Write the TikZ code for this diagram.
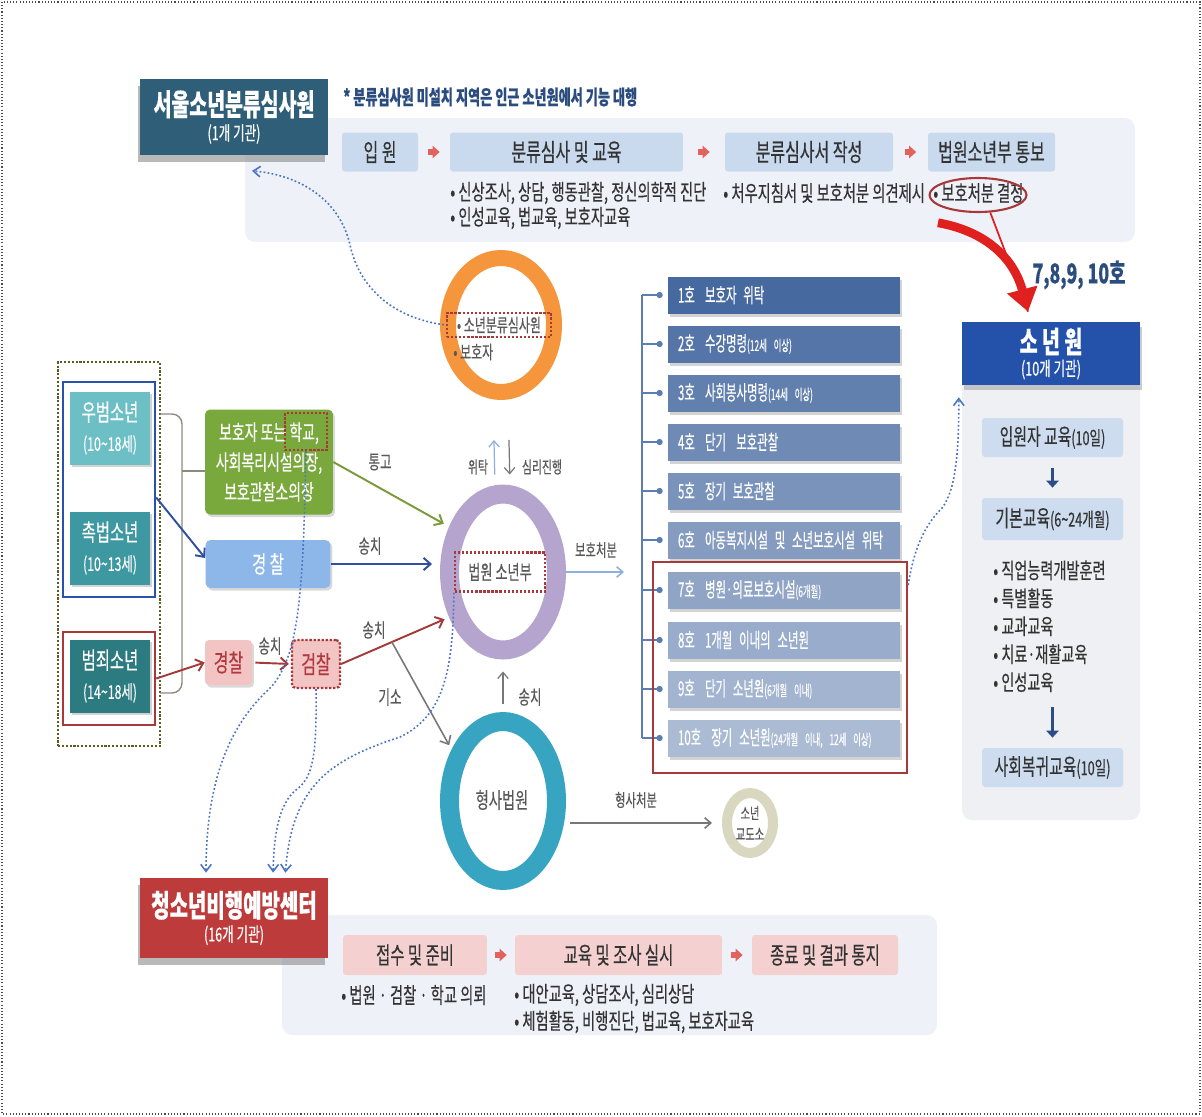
\documentclass[tikz,border=0pt]{standalone}
\usepackage{fontspec}
\setmainfont{Noto Sans CJK KR}[FakeStretch=0.65, FakeBold=0.35]
\newfontfamily\narrowkr{Noto Sans CJK KR}[FakeStretch=0.56, FakeBold=0.35]
\usetikzlibrary{shapes.geometric,arrows.meta,shadows}

\definecolor{headteal}{HTML}{2E5E78}
\definecolor{panelblue}{HTML}{EEF2F8}
\definecolor{stepblue}{HTML}{C9DAEE}
\definecolor{arrowred}{HTML}{E2625E}
\definecolor{notenavy}{HTML}{2B4C7F}
\definecolor{darktext}{HTML}{333333}
\definecolor{graytext}{HTML}{595959}
\definecolor{ringorange}{HTML}{F5963C}
\definecolor{ringpurple}{HTML}{B4A4CE}
\definecolor{ringteal}{HTML}{37A5C2}
\definecolor{ringbeige}{HTML}{DAD7C0}
\definecolor{framered}{HTML}{A8393B}
\definecolor{frameblue}{HTML}{2A52AC}
\definecolor{frameolive}{HTML}{5E5C22}
\definecolor{agelight}{HTML}{6DBFC6}
\definecolor{agemid}{HTML}{3E98A1}
\definecolor{agedark}{HTML}{2C7B81}
\definecolor{guardgreen}{HTML}{79A93C}
\definecolor{policeblue}{HTML}{8DB7E8}
\definecolor{pinkbox}{HTML}{F2C4C4}
\definecolor{pinktext}{HTML}{B23A3D}
\definecolor{dispblue}{HTML}{4669A0}
\definecolor{tickblue}{HTML}{5B7DB0}
\definecolor{srwblue}{HTML}{2452AA}
\definecolor{panelgray}{HTML}{EEF0F4}
\definecolor{edublue}{HTML}{CDDCEF}
\definecolor{edunavy}{HTML}{2C4E88}
\definecolor{ydpcred}{HTML}{BD3B3B}
\definecolor{pinkstep}{HTML}{F4D0D0}
\definecolor{swooshred}{HTML}{E0201E}
\definecolor{linkblue}{HTML}{4A74C4}
\definecolor{greenarrow}{HTML}{7A9A3A}
\definecolor{bluearrow}{HTML}{2F4FA0}
\definecolor{redarrow}{HTML}{A33A3A}
\definecolor{grayarrow}{HTML}{777777}
\definecolor{lightarrow}{HTML}{8FB0DC}
\definecolor{bracketgray}{HTML}{8C8C7C}

\newcommand\smtxt[1]{{\fontsize{8.5}{9}\selectfont #1}}
\newcommand\midtxt[1]{{\fontsize{11}{12}\selectfont #1}}

\begin{document}
\begin{tikzpicture}[x=0.02cm, y=-0.02cm,
  every node/.style={inner sep=0pt},
  panel/.style={fill=panelblue, rounded corners=0.2cm},
  head/.style={text=white, align=center, minimum width=3.76cm,
    drop shadow={shadow xshift=-0.05cm, shadow yshift=-0.14cm, opacity=0.55}},
  stepbox/.style={fill=stepblue, rounded corners=0.06cm, minimum height=0.78cm,
    text=darktext, font=\fontsize{14}{16}\selectfont},
  pinkbox/.style={fill=pinkstep, rounded corners=0.06cm, minimum height=0.8cm,
    text=darktext, font=\fontsize{13.5}{16}\selectfont},
  steparrow/.style={-{Triangle[length=4pt,width=7pt]}, line width=3pt, draw=arrowred},
  bullet/.style={anchor=west, text=darktext, font=\fontsize{12.5}{14}\selectfont},
  lbl/.style={text=graytext, font=\fontsize{11}{13}\selectfont},
  ring/.style={ellipse, draw},
  dotbox/.style={draw=framered, densely dotted, line width=1.3pt},
  agebox/.style={text=white, align=center, minimum width=1.6cm, minimum height=1.46cm,
    font=\fontsize{13.5}{17}\selectfont,
    drop shadow={shadow xshift=0.04cm, shadow yshift=-0.05cm, opacity=0.35}},
  dispbox/.style={text=white, minimum height=0.74cm, text width=4.24cm, inner xsep=0.2cm,
    align=left, font=\narrowkr\fontsize{11.6}{13}\selectfont,
    drop shadow={shadow xshift=0.04cm, shadow yshift=-0.06cm, opacity=0.35}},
  edubox/.style={fill=edublue, rounded corners=0.06cm, minimum width=2.82cm,
    minimum height=0.78cm, text=darktext, font=\fontsize{13}{15}\selectfont},
  arr/.style={-{Straight Barb[length=4pt,width=7pt]}, line width=1.1pt},
  thinarr/.style={-{Straight Barb[length=3.5pt,width=6pt]}, line width=0.7pt},
  eduarrow/.style={-{Triangle[length=4pt,width=7pt]}, line width=2.2pt, draw=edunavy},
  tickline/.style={draw=tickblue, line width=0.9pt},
  link/.style={draw=linkblue, line width=0.9pt, dash pattern=on 1pt off 1.3pt,
    -{Straight Barb[length=4pt,width=6pt]}},
  braceline/.style={draw=bracketgray, line width=0.8pt}]

\useasboundingbox (0,0) rectangle (1202,1116);
\draw[black!70, line width=0.6pt, dash pattern=on 0.6pt off 1.2pt] (2,2) rectangle (1200,1114);

% classification center
\fill[panel] (245,118) rectangle (1135,242);
\node[head, fill=headteal, minimum height=1.54cm] (scc) at (234,117)
  {{\fontsize{17}{20}\selectfont\bfseries 서울소년분류심사원}\\[2pt]{\fontsize{11}{13}\selectfont (1개 기관)}};
\node[anchor=west, text=notenavy, font=\fontsize{11.5}{13}\selectfont\bfseries] (note) at (343,97)
  {* 분류심사원 미설치 지역은 인근 소년원에서 기능 대행};

\node[stepbox, minimum width=1.52cm] (admit) at (380,152) {입 원};
\node[stepbox, minimum width=4.66cm] (classify) at (566.5,152) {분류심사 및 교육};
\node[stepbox, minimum width=3.36cm] (report) at (809,152) {분류심사서 작성};
\node[stepbox, minimum width=2.54cm] (notify) at (991.5,152) {법원소년부 통보};
\draw[steparrow, shorten <=0.2cm, shorten >=0.2cm] (admit) -- (classify);
\draw[steparrow, shorten <=0.3cm, shorten >=0.3cm] (classify) -- (report);
\draw[steparrow, shorten <=0.23cm, shorten >=0.23cm] (report) -- (notify);

\node[bullet] (survey) at (450,193) {• 신상조사, 상담, 행동관찰, 정신의학적 진단};
\node[bullet] (lessons) at (450,218) {• 인성교육, 법교육, 보호자교육};
\node[bullet] (opinion) at (723,193) {• 처우지침서 및 보호처분 의견제시};
\node[bullet] (decideTxt) at (933,193) {• 보호처분 결정};
\node[ellipse, draw=framered, line width=1.2pt, minimum width=1.94cm, minimum height=0.68cm] (decision) at (978,195) {};

% rings
\node[ring, draw=ringorange, line width=0.32cm, minimum width=2.12cm, minimum height=2.68cm] (cls) at (501,325) {};
\node[dotbox, text=graytext, minimum width=2.08cm, minimum height=0.48cm, font=\fontsize{10.5}{12}\selectfont] (clsTxt) at (499,325) {• 소년분류심사원};
\node[anchor=west, text=graytext, font=\fontsize{10.5}{12}\selectfont] (guardTxt) at (453,352) {• 보호자};

\node[ring, draw=ringpurple, line width=0.38cm, minimum width=2.14cm, minimum height=3.12cm] (court) at (503,572) {};
\node[dotbox, text=graytext, minimum width=1.8cm, minimum height=0.78cm, font=\fontsize{11.5}{13}\selectfont] (courtTxt) at (500,572) {법원 소년부};

\node[ring, draw=ringteal, line width=0.38cm, minimum width=2.14cm, minimum height=3.18cm] (crim) at (503,801) {};
\node[text=graytext, font=\fontsize{12.5}{14}\selectfont] (crimTxt) at (502,800) {형사법원};

\node[ring, draw=ringbeige, line width=0.2cm, minimum width=0.92cm, minimum height=1.2cm] (prison) at (750,823) {};
\node[text=graytext, align=center, font=\fontsize{9}{12}\selectfont] (prisonTxt) at (750,823) {소년\\교도소};

% juveniles
\node[draw=frameolive, line width=1.2pt, densely dotted, minimum width=2.04cm, minimum height=7.68cm] (grp) at (109,554) {};
\node[draw=frameblue, line width=1.4pt, minimum width=1.84cm, minimum height=4.3cm] (blueGrp) at (109,489.5) {};
\node[draw=framered, line width=1.4pt, minimum width=1.84cm, minimum height=1.86cm] (redGrp) at (109,678.5) {};
\node[agebox, fill=agelight] (woobum) at (110,428) {우범소년\\{\fontsize{10.8}{12}\selectfont(10\textasciitilde18세)}};
\node[agebox, fill=agemid] (chokbum) at (110,548) {촉법소년\\{\fontsize{10.8}{12}\selectfont(10\textasciitilde13세)}};
\node[agebox, fill=agedark] (crimYouth) at (110,676) {범죄소년\\{\fontsize{10.8}{12}\selectfont(14\textasciitilde18세)}};

\node[fill=guardgreen, rounded corners=0.1cm, minimum width=2.56cm, minimum height=2.1cm, text=white,
  align=center, font=\fontsize{12.2}{17}\selectfont,
  drop shadow={shadow xshift=0.04cm, shadow yshift=-0.05cm, opacity=0.3}] (guardian) at (269,462)
  {보호자 또는 학교,\\사회복리시설의장,\\보호관찰소의장};
\node[dotbox, minimum width=0.84cm, minimum height=0.74cm] (school) at (306,431.5) {};

\node[fill=policeblue, rounded corners=0.1cm, minimum width=2.5cm, minimum height=0.96cm, text=white,
  font=\fontsize{13.5}{15}\selectfont,
  drop shadow={shadow xshift=0.04cm, shadow yshift=-0.05cm, opacity=0.3}] (police1) at (268,564) {경 찰};
\node[fill=pinkbox, rounded corners=0.08cm, minimum width=0.94cm, minimum height=0.9cm, text=pinktext,
  font=\fontsize{14}{16}\selectfont,
  drop shadow={shadow xshift=0.04cm, shadow yshift=-0.05cm, opacity=0.3}] (police2) at (228.5,662.5) {경찰};
\node[fill=pinkbox, dotbox, rounded corners=0.08cm, minimum width=0.96cm, minimum height=0.96cm, text=pinktext,
  font=\fontsize{14}{16}\selectfont] (prosec) at (316,664) {검찰};

\coordinate (braceTop) at (160,414);
\coordinate (braceBot) at (160,693);
\coordinate (braceMid) at (182,471);
\draw[braceline, rounded corners=0.2cm] (braceTop) -- (182,414) -- (182,693) -- (braceBot);
\draw[braceline] (braceMid) -- (braceMid -| guardian.west);

\draw[arr, draw=bluearrow] ([yshift=-0.16cm]blueGrp.east) -- ([yshift=0.12cm]police1.west);
\draw[arr, draw=redarrow] (redGrp.east) -- (police2.west);
\draw[arr, draw=redarrow, shorten <=0.06cm, shorten >=0.04cm] (police2.east) -- (prosec.west);
\draw[arr, draw=greenarrow, shorten >=0.12cm] (guardian.east) -- (court.140);
\draw[arr, draw=bluearrow, shorten >=0.16cm] (police1.east) -- (police1.east -| court.west);
\draw[arr, draw=redarrow, shorten >=0.1cm] (prosec.east) -- coordinate[pos=0.47] (gisoFrom) (court.220);
\draw[arr, draw=grayarrow, line width=0.9pt, shorten >=0.1cm] (gisoFrom) -- (crim.135);

\node[lbl] (lblNotice) at (380,462) {통고};
\node[lbl] (lblSend1) at (370,546) {송치};
\node[lbl] (lblSend2) at (374,630) {송치};
\node[lbl] (lblSend3) at (270,646) {송치};
\node[lbl] (lblIndict) at (390,697) {기소};

% court links
\draw[thinarr, draw=lightarrow, shorten <=0.2cm, shorten >=0.8cm] ([xshift=-0.16cm]court.north) -- ([xshift=-0.16cm]cls.south);
\draw[thinarr, draw=grayarrow, shorten <=0.8cm, shorten >=0.2cm] ([xshift=0.14cm]cls.south) -- ([xshift=0.14cm]court.north);
\node[lbl, font=\fontsize{9.5}{11}\selectfont] (lblEntrust) at (478,467) {위탁};
\node[lbl, font=\fontsize{9.5}{11}\selectfont] (lblTrial) at (542,467) {심리진행};
\draw[thinarr, draw=grayarrow, shorten <=0.16cm, shorten >=0.24cm] (crim.north) -- (court.south);
\node[lbl] (lblSend4) at (530,697) {송치};
\draw[thinarr, draw=grayarrow, line width=0.9pt, shorten <=0.08cm, shorten >=0.2cm] (crim.east |- prison.west) -- (prison.west);
\node[lbl, font=\fontsize{10}{12}\selectfont] (lblPenal) at (636,800) {형사처분};

% dispositions
\node[dispbox, fill=dispblue] (d1) at (784,295) {1호\enspace 보호자 위탁};
\node[dispbox, fill=dispblue!92!white] (d2) at (784,344) {2호\enspace 수강명령\smtxt{(12세 이상)}};
\node[dispbox, fill=dispblue!85!white] (d3) at (784,393) {3호\enspace 사회봉사명령\smtxt{(14세 이상)}};
\node[dispbox, fill=dispblue!78!white] (d4) at (784,442) {4호\enspace 단기\enspace 보호관찰};
\node[dispbox, fill=dispblue!72!white] (d5) at (784,491) {5호\enspace 장기 보호관찰};
\node[dispbox, fill=dispblue!66!white] (d6) at (784,540) {6호\enspace 아동복지시설 및 소년보호시설 위탁};
\node[dispbox, fill=dispblue!60!white] (d7) at (784,590) {7호\enspace 병원·의료보호시설\smtxt{(6개월)}};
\node[dispbox, fill=dispblue!55!white] (d8) at (784,640) {8호\enspace 1개월 이내의 소년원};
\node[dispbox, fill=dispblue!50!white] (d9) at (784,689) {9호\enspace 단기 소년원\smtxt{(6개월 이내)}};
\node[dispbox, fill=dispblue!45!white] (d10) at (784,738) {10호\enspace 장기 소년원\smtxt{(24개월 이내, 12세 이상)}};

\coordinate (bTop) at (642,295);
\coordinate (bBot) at (642,738);
\draw[tickline] (bTop) -- (bBot);
\draw[tickline, -{Circle[length=3.5pt]}, shorten >=0.1cm] (d1.west -| bTop) -- (d1.west);
\draw[tickline, -{Circle[length=3.5pt]}, shorten >=0.1cm] (d2.west -| bTop) -- (d2.west);
\draw[tickline, -{Circle[length=3.5pt]}, shorten >=0.1cm] (d3.west -| bTop) -- (d3.west);
\draw[tickline, -{Circle[length=3.5pt]}, shorten >=0.1cm] (d4.west -| bTop) -- (d4.west);
\draw[tickline, -{Circle[length=3.5pt]}, shorten >=0.1cm] (d5.west -| bTop) -- (d5.west);
\draw[tickline, -{Circle[length=3.5pt]}, shorten >=0.1cm] (d6.west -| bTop) -- (d6.west);
\draw[tickline, -{Circle[length=3.5pt]}, shorten >=0.1cm] (d7.west -| bTop) -- (d7.west);
\draw[tickline, -{Circle[length=3.5pt]}, shorten >=0.1cm] (d8.west -| bTop) -- (d8.west);
\draw[tickline, -{Circle[length=3.5pt]}, shorten >=0.1cm] (d9.west -| bTop) -- (d9.west);
\draw[tickline, -{Circle[length=3.5pt]}, shorten >=0.1cm] (d10.west -| bTop) -- (d10.west);
\node[draw=framered, line width=1.4pt, minimum width=5.08cm, minimum height=4.22cm] (sel) at (780,667.5) {};

\draw[thinarr, draw=lightarrow, line width=0.9pt, shorten >=0.36cm] (court.east) -- (court.east -| bTop);
\node[lbl, font=\fontsize{10}{12}\selectfont] (lblProtect) at (596,550) {보호처분};

% juvenile reformatory
\fill[panelgray, rounded corners=0.2cm] (962,330) rectangle (1140,820);
\node[fill=srwblue, text=white, align=center, minimum width=3.56cm, minimum height=1.26cm,
  drop shadow={shadow xshift=0.04cm, shadow yshift=-0.1cm, opacity=0.4}] (srw) at (1051,353.5)
  {{\fontsize{17}{19}\selectfont\bfseries 소 년 원}\\[1pt]{\fontsize{11}{12}\selectfont (10개 기관)}};
\node[edubox] (intro) at (1052.5,437.5) {입원자 교육\midtxt{(10일)}};
\node[edubox, minimum height=0.84cm] (basic) at (1052.5,519) {기본교육\midtxt{(6\textasciitilde24개월)}};
\node[bullet, anchor=north west, align=left, font=\fontsize{12.4}{15.9}\selectfont] (subjects) at (993,560)
  {• 직업능력개발훈련\\• 특별활동\\• 교과교육\\• 치료·재활교육\\• 인성교육};
\node[edubox] (rejoin) at (1052.5,767.5) {사회복귀교육\midtxt{(10일)}};
\draw[eduarrow, shorten <=0.22cm, shorten >=0.2cm] (intro) -- (basic);
\draw[eduarrow, shorten <=0.3cm, shorten >=0.2cm] (subjects.south -| rejoin.north) -- (rejoin.north);

\node[text=notenavy, font=\fontsize{15.5}{18}\selectfont\bfseries] (ranks) at (1079,275) {7,8,9, 10호};
\draw[line width=5pt, draw=swooshred, -{Triangle[length=13pt,width=17pt]}]
  ([xshift=-0.1cm, yshift=-0.3cm]decision.south west) .. controls (990,232) and (1015,262) .. ([xshift=-0.46cm, yshift=0.2cm]srw.north);
\draw[line width=1pt, draw=swooshred] (decision.-55) -- ([xshift=-0.46cm, yshift=0.2cm]srw.north);

\draw[link, shorten >=0.24cm] ([yshift=1.65cm]sel.east) .. controls (915,540) and (930,520) .. (942,508)
  .. controls (956,490) and (959,450) .. ([xshift=-0.06cm]srw.south west);

% delinquency prevention center
\fill[panel] (282,915) rectangle (937,1035);
\node[head, fill=ydpcred, minimum height=1.6cm] (ydpc) at (234,918)
  {{\fontsize{17.5}{20}\selectfont\bfseries 청소년비행예방센터}\\[2pt]{\fontsize{11}{13}\selectfont (16개 기관)}};
\node[pinkbox, minimum width=2.88cm] (intake) at (415,955) {접수 및 준비};
\node[pinkbox, minimum width=4.14cm] (program) at (618.5,955) {교육 및 조사 실시};
\node[pinkbox, minimum width=2.92cm] (closing) at (825,955) {종료 및 결과 통지};
\draw[steparrow, shorten <=0.16cm, shorten >=0.16cm] (intake) -- (program);
\draw[steparrow, shorten <=0.18cm, shorten >=0.18cm] (program) -- (closing);
\node[bullet] (referral) at (341,995) {• 법원 · 검찰 · 학교 의뢰};
\node[bullet] (counsel) at (514,995) {• 대안교육, 상담조사, 심리상담};
\node[bullet] (activity) at (514,1022) {• 체험활동, 비행진단, 법교육, 보호자교육};

% dotted links
\draw[link, shorten <=0.04cm] (clsTxt.west) .. controls (395,318) and (360,290) .. (350,245)
  .. controls (340,200) and (300,175) .. ([xshift=0.36cm, yshift=-0.3cm]scc.south);
\draw[link, shorten >=0.1cm] (school.south) .. controls (303,590) and (300,660) .. (268,690)
  .. controls (225,730) and (206,790) .. ([xshift=-0.56cm]ydpc.north);
\draw[link, shorten >=0.1cm] (prosec.south) .. controls (317,760) and (312,778) .. (296,790)
  .. controls (280,803) and (274,830) .. ([xshift=0.78cm]ydpc.north);
\draw[link, shorten >=0.1cm] (courtTxt.south west) .. controls (453,665) and (446,715) .. (400,737)
  .. controls (330,760) and (292,785) .. ([xshift=1.02cm]ydpc.north);
\end{tikzpicture}
\end{document}
